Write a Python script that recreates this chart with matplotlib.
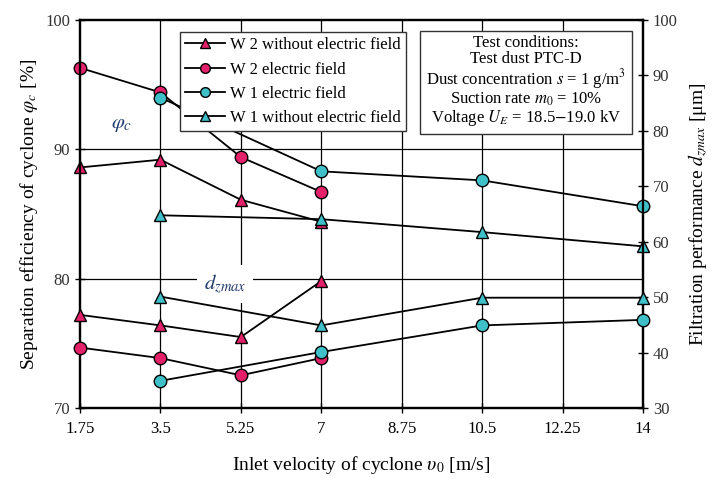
import matplotlib
matplotlib.use("Agg")
import matplotlib.pyplot as plt
from matplotlib.lines import Line2D

plt.rcParams['font.family'] = ['Liberation Serif', 'DejaVu Serif']
plt.rcParams['mathtext.fontset'] = 'stix'

# ---- data ----
x_ticks = [1.75, 3.5, 5.25, 7, 8.75, 10.5, 12.25, 14]
x_tick_labels = ["1.75", "3.5", "5.25", "7", "8.75", "10.5", "12.25", "14"]

# separation efficiency phi_c [%] (left axis)
phi_w2_wo_x = [1.75, 3.5, 5.25, 7]
phi_w2_wo = [88.6, 89.2, 86.1, 84.4]
phi_w2_ef_x = [1.75, 3.5, 5.25, 7]
phi_w2_ef = [96.3, 94.4, 89.4, 86.7]
phi_w1_ef_x = [3.5, 7, 10.5, 14]
phi_w1_ef = [94.0, 88.3, 87.6, 85.6]
phi_w1_wo_x = [3.5, 7, 10.5, 14]
phi_w1_wo = [84.9, 84.6, 83.6, 82.5]

# filtration performance d_zmax [um] (right axis)
d_w2_wo_x = [1.75, 3.5, 5.25, 7]
d_w2_wo = [46.8, 44.9, 42.8, 52.9]
d_w2_ef_x = [1.75, 3.5, 5.25, 7]
d_w2_ef = [40.9, 39.0, 35.9, 39.0]
d_w1_ef_x = [3.5, 7, 10.5, 14]
d_w1_ef = [34.9, 40.1, 44.9, 45.9]
d_w1_wo_x = [3.5, 7, 10.5, 14]
d_w1_wo = [50.1, 44.9, 49.9, 49.9]

pink = '#e3206a'
cyan = '#3fc0c9'
label_col = '#1f3a6b'

fig = plt.figure(figsize=(7.24, 4.78), dpi=100)
ax = fig.add_axes([80/724, 1-408/478, 563/724, 388/478])
ax2 = ax.twinx()

ax.set_xlim(1.75, 14)
ax.set_ylim(70, 100)
ax2.set_ylim(30, 100)

ax.set_xticks(x_ticks)
ax.set_xticklabels(x_tick_labels)
ax.set_yticks([70, 80, 90, 100])
ax2.set_yticks(range(30, 101, 10))

for x in x_ticks[1:-1]:
    ax.axvline(x, color='black', lw=0.9, zorder=0)
for y in [80, 90]:
    ax.axhline(y, color='black', lw=0.9, zorder=0)

for a in (ax, ax2):
    for s in a.spines.values():
        s.set_linewidth(1.6)
ax.tick_params(axis='both', direction='inout', length=7, width=1.0, labelsize=12, colors='black')
ax.tick_params(axis='y', labelcolor='#333333')
ax.tick_params(axis='x', pad=6)
ax2.tick_params(axis='y', direction='inout', length=7, width=1.0, labelsize=12, labelcolor='#333333')

lw = 1.3
tri = dict(marker='^', ms=8, mec='black', mew=1.0, color='black', lw=lw)
cir = dict(marker='o', ms=9, mec='black', mew=1.0, color='black', lw=lw)

ax.plot(phi_w2_wo_x, phi_w2_wo, mfc=pink, **tri, zorder=3, clip_on=False)
ax.plot(phi_w2_ef_x, phi_w2_ef, mfc=pink, **cir, zorder=3, clip_on=False)
ax.plot(phi_w1_ef_x, phi_w1_ef, mfc=cyan, **cir, zorder=3, clip_on=False)
ax.plot(phi_w1_wo_x, phi_w1_wo, mfc=cyan, **tri, zorder=3, clip_on=False)

ax2.plot(d_w2_wo_x, d_w2_wo, mfc=pink, **tri, zorder=3, clip_on=False)
ax2.plot(d_w2_ef_x, d_w2_ef, mfc=pink, **cir, zorder=3, clip_on=False)
ax2.plot(d_w1_ef_x, d_w1_ef, mfc=cyan, **cir, zorder=3, clip_on=False)
ax2.plot(d_w1_wo_x, d_w1_wo, mfc=cyan, **tri, zorder=3, clip_on=False)

ax.text(2.66, 91.9, r'$\varphi_c$', fontsize=15, color=label_col, ha='center', va='center')
ax.text(4.9, 79.6, r'$d_{zmax}$', fontsize=15, color=label_col, ha='center', va='center',
        bbox=dict(facecolor='white', edgecolor='none', pad=5), zorder=2)

handles = [
    Line2D([], [], mfc=pink, **tri),
    Line2D([], [], mfc=pink, **cir),
    Line2D([], [], mfc=cyan, **cir),
    Line2D([], [], mfc=cyan, **tri),
]
labels = ["W 2 without electric field", "W 2 electric field",
          "W 1 electric field", "W 1 without electric field"]
for h in handles:
    h.set_markersize(7)
leg = ax2.legend(handles, labels, loc='upper left', bbox_to_anchor=(0.163, 0.99),
                 fontsize=12, frameon=True, fancybox=False, edgecolor='#333333',
                 framealpha=1, handlelength=2.4, borderpad=0.3, labelspacing=0.5,
                 handletextpad=0.3)
leg.get_frame().set_linewidth(1.0)
leg.set_zorder(5)

box_text = ("Test conditions:\nTest dust PTC-D\n"
            r"Dust concentration $s$ = 1 g/m$^3$" "\n"
            r"Suction rate $m_0$ = 10%" "\n"
            r"Voltage $U_E$ = 18.5$-$19.0 kV")
ax2.text(0.792, 0.962, box_text, transform=ax2.transAxes, ha='center', va='top',
         fontsize=12, linespacing=1.0,
         bbox=dict(facecolor='white', edgecolor='#333333', boxstyle='square,pad=0.35', lw=1.0),
         zorder=6)

ax.set_xlabel(r'Inlet velocity of cyclone $\upsilon_0$ [m/s]', fontsize=14, labelpad=12)
ax.set_ylabel(r'Separation efficiency of cyclone $\varphi_c$ [%]', fontsize=14, labelpad=4)
ax2.set_ylabel(r'Filtration performance $d_{zmax}$ [μm]', fontsize=14, labelpad=6)

fig.savefig('out.png', dpi=100)
